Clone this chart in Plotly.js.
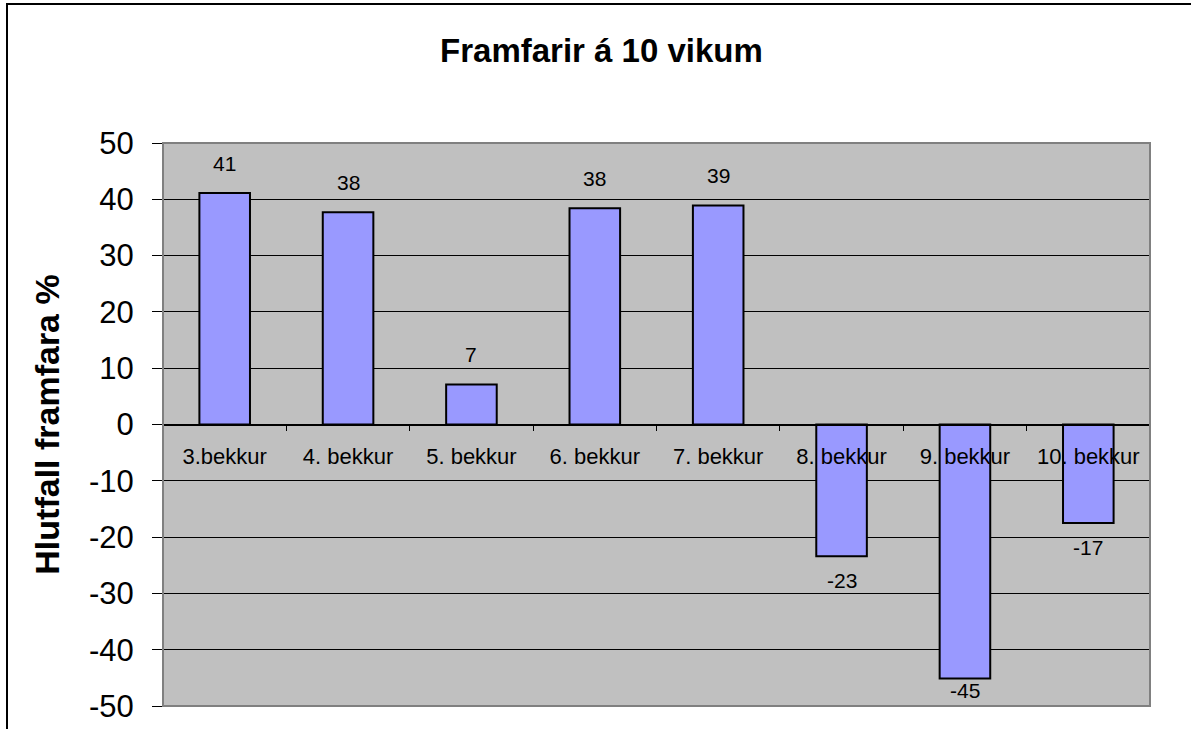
<!DOCTYPE html>
<html>
<head>
<meta charset="utf-8">
<script src="https://cdn.plot.ly/plotly-3.0.1.min.js"></script>
<style>html,body{margin:0;padding:0;background:#fff;}#chart{width:1191px;height:729px;}</style>
</head>
<body>
<div id="chart"></div>
<script>
const categories = ["3.bekkur", "4. bekkur", "5. bekkur", "6. bekkur", "7. bekkur", "8. bekkur", "9. bekkur", "10. bekkur"];
const values = [41.1, 37.7, 7.1, 38.4, 38.9, -23.4, -45.1, -17.5];
const yTicks = [50, 40, 30, 20, 10, 0, -10, -20, -30, -40, -50];

const font = "Arial, 'Liberation Sans', sans-serif";

const trace = {
  type: "bar",
  x: categories,
  y: values,
  marker: { color: "#9999FF", line: { color: "#000000", width: 2 } },
  hoverinfo: "x+y"
};

const annotations = values.map((v, i) => ({
  x: categories[i],
  y: v >= 0 ? v : Math.max(v, -43),
  xref: "x", yref: "y",
  text: String(Math.round(v)),
  showarrow: false,
  yanchor: "middle",
  yshift: v >= 0 ? 30 : -24,
  font: { family: font, size: 21, color: "#000" }
}));

const layout = {
  width: 1191, height: 729,
  margin: { l: 163, r: 41, t: 143, b: 23 },
  paper_bgcolor: "#ffffff",
  plot_bgcolor: "#C0C0C0",
  bargap: 0.59,
  showlegend: false,
  title: {
    text: "<b>Framfarir á 10 vikum</b>",
    font: { family: font, size: 33, color: "#000" },
    x: 0.505, xanchor: "center", y: 0.931, yanchor: "middle"
  },
  xaxis: {
    type: "category",
    anchor: "free",
    position: 0.5,
    showline: true, linecolor: "#000", linewidth: 1,
    ticks: "outside", ticklen: 5, tickcolor: "#000",
    tickson: "boundaries",
    ticklabelstandoff: 12,
    showgrid: false,
    zeroline: false,
    tickfont: { family: font, size: 22, color: "#000" },
    fixedrange: true
  },
  yaxis: {
    range: [-50, 50],
    tickvals: yTicks,
    ticktext: yTicks.map(String),
    showline: true, linecolor: "#000", linewidth: 1,
    ticks: "outside", ticklen: 10, tickcolor: "#000",
    ticklabelstandoff: 12,
    showgrid: true, gridcolor: "#000", gridwidth: 1,
    zeroline: false,
    tickfont: { family: font, size: 31, color: "#000" },
    title: { text: "<b>Hlutfall framfara %</b>", font: { family: font, size: 34, color: "#000" }, standoff: 19 },
    fixedrange: true
  },
  shapes: [
    { type: "rect", xref: "paper", yref: "paper", x0: 0, x1: 1, y0: 0, y1: 1,
      line: { color: "#808080", width: 2 }, fillcolor: "rgba(0,0,0,0)", layer: "above" },
    { type: "rect", xref: "paper", yref: "paper",
      x0: -156/987, x1: 1033/987, y0: -40/563, y1: 1 + 139/563,
      line: { color: "#000", width: 2 }, fillcolor: "rgba(0,0,0,0)", layer: "above" }
  ],
  annotations: annotations
};

Plotly.newPlot("chart", [trace], layout, { displayModeBar: false, staticPlot: true });
</script>
</body>
</html>
